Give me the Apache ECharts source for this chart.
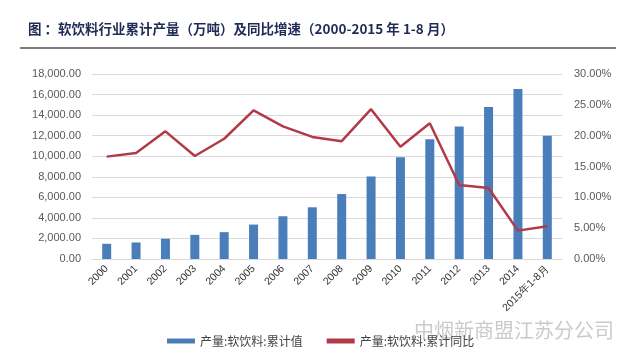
<!DOCTYPE html>
<html><head><meta charset="utf-8">
<script src="https://cdn.jsdelivr.net/npm/echarts@6/dist/echarts.min.js"></script>
<style>html,body{margin:0;padding:0;background:#fff}#c{width:640px;height:363px}</style>
</head><body><div id="c"></div>
<script>
const categories = ['2000','2001','2002','2003','2004','2005','2006','2007','2008','2009','2010','2011','2012','2013','2014','2015年1-8月'];
const outputValues = [1480,1610,1970,2350,2610,3350,4160,5030,6320,8030,9900,11650,12900,14800,16550,12000];
const growthValues = [16.6,17.2,20.7,16.7,19.5,24.1,21.5,19.8,19.1,24.3,18.2,22.0,12.0,11.5,4.6,5.3];
const leftTicks = {min:0,max:18000,interval:2000};
const rightTicks = {min:0,max:30,interval:5};
const barName = '产量:软饮料:累计值';
const lineName = '产量:软饮料:累计同比';
const titleText = '图 ：软饮料行业累计产量（万吨）及同比增速（2000-2015 年 1-8 月）';

const chart = echarts.init(document.getElementById('c'));
const fmt = v => v.toLocaleString('en-US',{minimumFractionDigits:2,maximumFractionDigits:2});
chart.setOption({
  animation:false,
  backgroundColor:'#fff',
  title:{text:titleText,left:23,top:17,textStyle:{fontFamily:'Noto Sans CJK SC',fontSize:13.5,fontWeight:'bold',color:'#1f2a55'}},
  graphic:[
    {type:'line',shape:{x1:20,y1:48,x2:616,y2:48},style:{stroke:'#555',lineWidth:1.5}},
    {type:'text',left:414,top:320,style:{text:'中烟新商盟江苏分公司',font:'20px "Noto Sans CJK SC"',fill:'rgba(150,150,150,0.5)'}}
  ],
  grid:{left:92,right:78,top:74,bottom:104},
  legend:{top:330,left:162,itemGap:24,itemWidth:28,itemHeight:5,
    textStyle:{fontFamily:'Noto Sans CJK SC',fontSize:12,color:'#444'},
    data:[{name:barName,icon:'rect'},{name:lineName,icon:'rect'}]},
  xAxis:{type:'category',data:categories,
    axisLine:{lineStyle:{color:'#d9d9d9'}},axisTick:{show:false},
    axisLabel:{rotate:45,fontSize:10.5,color:'#333',fontFamily:'Liberation Sans',interval:0,margin:8}},
  yAxis:[
    {type:'value',min:leftTicks.min,max:leftTicks.max,interval:leftTicks.interval,
     axisLine:{show:false},axisTick:{show:false},
     splitLine:{lineStyle:{color:'#d9d9d9'}},
     axisLabel:{formatter:fmt,fontSize:11,color:'#595959',fontFamily:'Liberation Sans',margin:11}},
    {type:'value',min:rightTicks.min,max:rightTicks.max,interval:rightTicks.interval,
     axisLine:{show:false},axisTick:{show:false},splitLine:{show:false},
     axisLabel:{formatter:v=>v.toFixed(2)+'%',fontSize:11,color:'#595959',fontFamily:'Liberation Sans',margin:12}}
  ],
  series:[
    {name:barName,type:'bar',data:outputValues,barWidth:9,itemStyle:{color:'#4a7ebb'}},
    {name:lineName,type:'line',yAxisIndex:1,data:growthValues,symbol:'none',
     lineStyle:{color:'#b23a48',width:2.5},itemStyle:{color:'#b23a48'}}
  ]
});
</script></body></html>
